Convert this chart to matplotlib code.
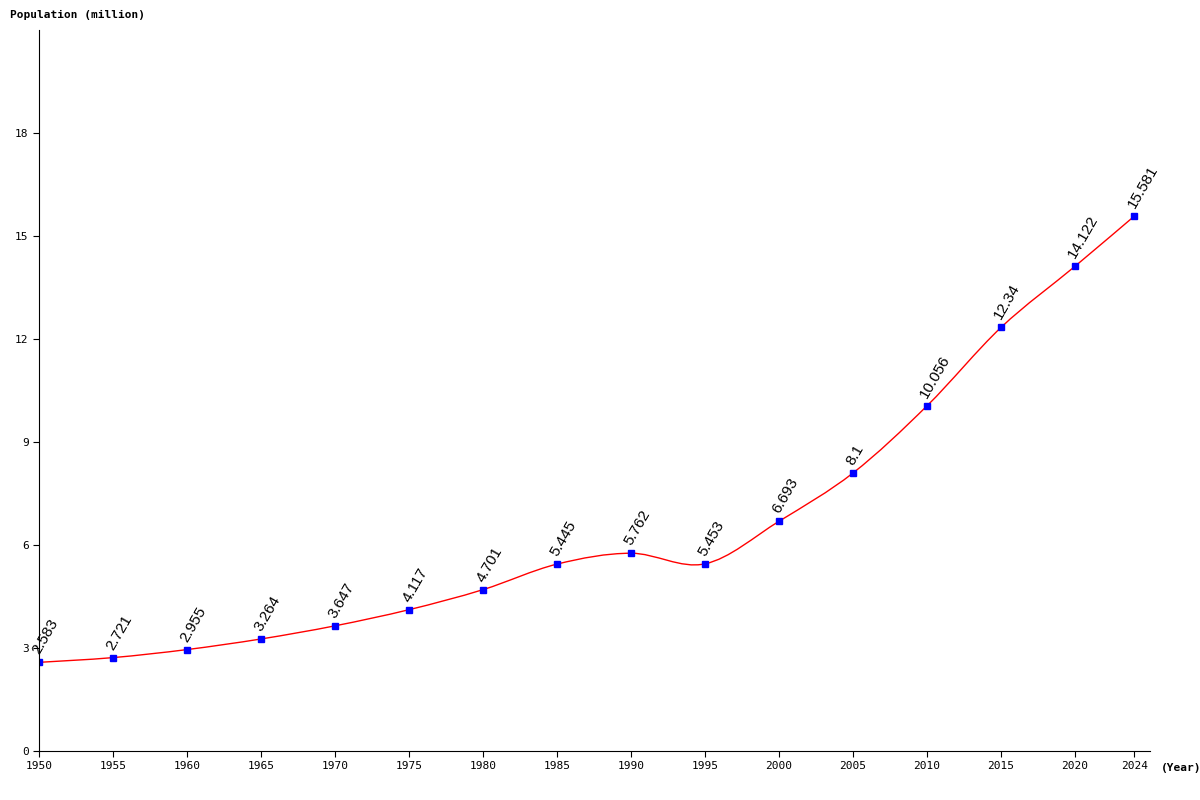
import matplotlib
matplotlib.use('Agg')
import matplotlib.pyplot as plt
from matplotlib.path import Path
from matplotlib.patches import PathPatch

# data
years = [1950, 1955, 1960, 1965, 1970, 1975, 1980, 1985, 1990, 1995,
         2000, 2005, 2010, 2015, 2020, 2024]
population = [2.583, 2.721, 2.955, 3.264, 3.647, 4.117, 4.701, 5.445, 5.762, 5.453,
              6.693, 8.1, 10.056, 12.34, 14.122, 15.581]
labels = ["2.583", "2.721", "2.955", "3.264", "3.647", "4.117", "4.701", "5.445", "5.762", "5.453",
          "6.693", "8.1", "10.056", "12.34", "14.122", "15.581"]
y_ticks = [0, 3, 6, 9, 12, 15, 18]

fig = plt.figure(figsize=(12, 8), dpi=100)
ax = fig.add_axes([0.0325, 0.06125, 0.926, 0.901])
ax.set_xlim(1950, 2025.08)
ax.set_ylim(0, 21)

# smooth curve via Catmull-Rom -> Bezier segments
verts = [(years[0], population[0])]
codes = [Path.MOVETO]
n = len(years)
for i in range(n - 1):
    p0 = (years[max(i - 1, 0)], population[max(i - 1, 0)])
    p1 = (years[i], population[i])
    p2 = (years[i + 1], population[i + 1])
    p3 = (years[min(i + 2, n - 1)], population[min(i + 2, n - 1)])
    c1 = (p1[0] + (p2[0] - p0[0]) / 6, p1[1] + (p2[1] - p0[1]) / 6)
    c2 = (p2[0] - (p3[0] - p1[0]) / 6, p2[1] - (p3[1] - p1[1]) / 6)
    verts += [c1, c2, p2]
    codes += [Path.CURVE4] * 3
ax.add_patch(PathPatch(Path(verts, codes), fill=False, edgecolor='red', linewidth=1))

ax.plot(years, population, linestyle='none', marker='s', markersize=4, color='blue')

for x, y, t in zip(years, population, labels):
    ax.annotate(t, (x, y), xytext=(2, 4), textcoords='offset points',
                rotation=60, fontsize=11, ha='left', va='bottom',
                family='Liberation Sans', rotation_mode='anchor')

ax.set_xticks(years)
ax.set_xticklabels([str(y) for y in years])
ax.set_yticks(y_ticks)
ax.tick_params(labelsize=8, length=4)
for lab in ax.get_xticklabels() + ax.get_yticklabels():
    lab.set_family('DejaVu Sans Mono')
ax.spines['top'].set_visible(False)
ax.spines['right'].set_visible(False)

fig.text(0.008, 0.975, "Population (million)", family='DejaVu Sans Mono',
         fontsize=8, fontweight='bold', va='bottom')
fig.text(0.967, 0.04, "(Year)", family='DejaVu Sans Mono',
         fontsize=8, fontweight='bold', va='center')

fig.savefig('out.png', dpi=100)
